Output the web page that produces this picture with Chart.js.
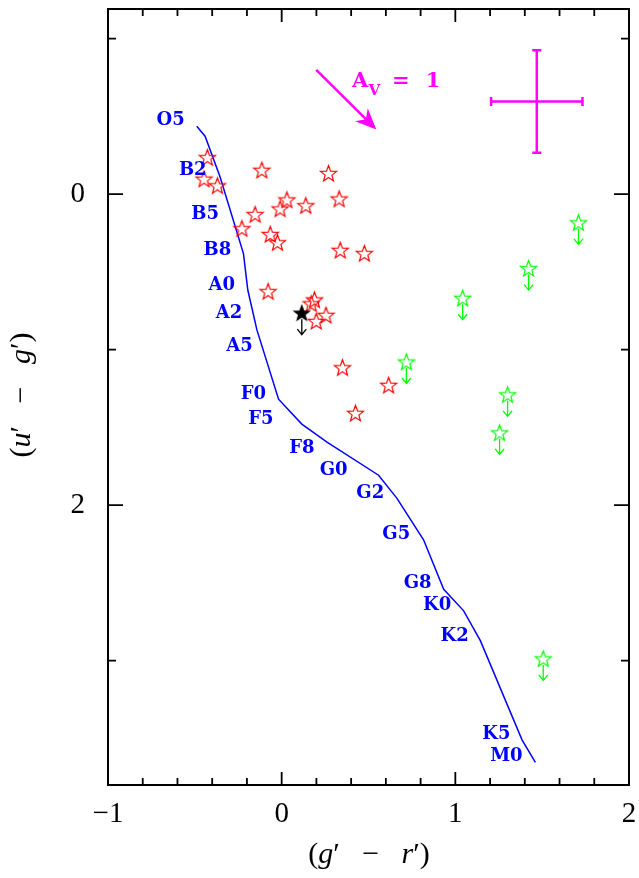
<!DOCTYPE html>
<html><head><meta charset="utf-8">
<script src="https://cdn.jsdelivr.net/npm/chart.js@4"></script>
<style>html,body{margin:0;padding:0;background:#fff;overflow:hidden}#wrap{width:639px;height:878px;position:relative}</style>
</head><body><div id="wrap"><canvas id="c" width="639" height="878"></canvas></div>
<script>
// ---- data ----
const msX = [-0.489,-0.441,-0.354,-0.220,-0.195,-0.143,-0.018,0.116,0.261,0.558,0.664,0.817,0.933,1.048,1.144,1.384,1.461];
const msY = [-0.436,-0.372,-0.108,0.383,0.617,0.872,1.319,1.479,1.595,1.808,1.957,2.223,2.542,2.680,2.872,3.510,3.655];
const spLabel = ['O5','B2','B5','B8','A0','A2','A5','F0','F5','F8','G0','G2','G5','G8','K0','K2','K5','M0'];
const spX = [-0.639,-0.512,-0.441,-0.370,-0.345,-0.303,-0.243,-0.163,-0.120,0.116,0.299,0.510,0.660,0.783,0.895,0.996,1.236,1.294];
const spY = [-0.472,-0.155,0.128,0.362,0.585,0.766,0.978,1.287,1.447,1.638,1.776,1.925,2.187,2.506,2.644,2.846,3.471,3.616];
const redX = [-0.428,-0.447,-0.370,-0.114,0.270,0.030,-0.009,0.139,0.331,-0.153,-0.229,-0.066,-0.024,0.337,0.476,-0.078,0.189,0.170,0.255,0.199,0.350,0.616,0.425];
const redY = [-0.234,-0.096,-0.053,-0.153,-0.132,0.038,0.096,0.075,0.032,0.132,0.223,0.260,0.313,0.362,0.383,0.627,0.681,0.706,0.780,0.819,1.117,1.230,1.410];
const greenX = [1.709,1.422,1.042,0.718,1.301,1.255,1.506];
const greenY = [0.185,0.479,0.670,1.080,1.291,1.536,2.989];
const blackX = [0.116];
const blackY = [0.766];
const xTickVals = [-1,0,1,2];
const yTickVals = [0,2];
const errX = [1.469], errY = [-0.595], errDX = [0.263], errDY = [0.330];
const avFrom = [0.199,-0.798];
const avTo = [0.545,-0.415];
const avText = ['A','V','=','1'];
const avTextX = [0.405,0.500,0.635,0.830];
const avTextY = [-0.691,-0.640,-0.691,-0.691];

// ---- star markers ----
function makeStar(color, filled, r){
  const s = Math.ceil(2*r+4), c = document.createElement('canvas');
  c.width = s; c.height = s;
  const g = c.getContext('2d'), cx = s/2, cy = s/2 + 0.5;
  g.beginPath();
  for (let i=0;i<10;i++){
    const ang = -Math.PI/2 + i*Math.PI/5, rr = (i%2) ? r*0.42 : r;
    const px = cx + rr*Math.cos(ang), py = cy + rr*Math.sin(ang);
    i ? g.lineTo(px,py) : g.moveTo(px,py);
  }
  g.closePath();
  if (filled){ g.fillStyle = color; g.fill(); }
  g.strokeStyle = color; g.lineWidth = 1.2; g.stroke();
  return c;
}
const redStar = makeStar('#ff0000', false, 8.5);
const greenStar = makeStar('#00ff00', false, 8.5);
const blackStar = makeStar('#000000', true, 8);

const pts = (xs, ys) => xs.map((v,i)=>({x:v, y:ys[i]}));
const signed = v => v < 0 ? '\u2212' + Math.abs(v) : String(v);
const noPad = s => { s.paddingTop = 0; s.paddingBottom = 0; s.paddingLeft = 0; s.paddingRight = 0; };

const deco = {
  id: 'deco',
  afterDatasetsDraw(chart){
    const {ctx, chartArea:a, scales:{x, y}} = chart;
    ctx.save();
    // upper-limit arrows
    const limArrow = (px, py, color) => {
      ctx.strokeStyle = color; ctx.lineWidth = 1.3;
      ctx.beginPath();
      ctx.moveTo(px, py+6); ctx.lineTo(px, py+21.5);
      ctx.moveTo(px-4.5, py+16); ctx.lineTo(px, py+21.5); ctx.lineTo(px+4.5, py+16);
      ctx.stroke();
    };
    greenX.forEach((v,i)=>limArrow(x.getPixelForValue(v), y.getPixelForValue(greenY[i]), '#00ff00'));
    blackX.forEach((v,i)=>limArrow(x.getPixelForValue(v), y.getPixelForValue(blackY[i]), '#000000'));

    // spectral type labels
    ctx.fillStyle = '#0000ff';
    ctx.font = 'bold 18px "DejaVu Serif"';
    ctx.textAlign = 'center'; ctx.textBaseline = 'middle';
    spLabel.forEach((t,i)=>ctx.fillText(t, x.getPixelForValue(spX[i]), y.getPixelForValue(spY[i])));

    // error cross
    ctx.strokeStyle = '#ff00ff'; ctx.lineWidth = 2.5;
    errX.forEach((v,i)=>{
      const cx = x.getPixelForValue(v), cy = y.getPixelForValue(errY[i]);
      const x1 = x.getPixelForValue(v-errDX[i]), x2 = x.getPixelForValue(v+errDX[i]);
      const y1 = y.getPixelForValue(errY[i]-errDY[i]), y2 = y.getPixelForValue(errY[i]+errDY[i]);
      ctx.beginPath();
      ctx.moveTo(x1,cy); ctx.lineTo(x2,cy);
      ctx.moveTo(cx,y1); ctx.lineTo(cx,y2);
      ctx.moveTo(x1,cy-4.5); ctx.lineTo(x1,cy+4.5);
      ctx.moveTo(x2,cy-4.5); ctx.lineTo(x2,cy+4.5);
      ctx.moveTo(cx-4.5,y1); ctx.lineTo(cx+4.5,y1);
      ctx.moveTo(cx-4.5,y2); ctx.lineTo(cx+4.5,y2);
      ctx.stroke();
    });

    // reddening vector
    const ax1 = x.getPixelForValue(avFrom[0]), ay1 = y.getPixelForValue(avFrom[1]);
    const ax2 = x.getPixelForValue(avTo[0]), ay2 = y.getPixelForValue(avTo[1]);
    const ang = Math.atan2(ay2-ay1, ax2-ax1);
    const hl = 21, hw = 9;
    const bx = ax2 - hl*Math.cos(ang), by = ay2 - hl*Math.sin(ang);
    const nx = ax2 - 0.7*hl*Math.cos(ang), ny = ay2 - 0.7*hl*Math.sin(ang);
    ctx.beginPath(); ctx.moveTo(ax1,ay1); ctx.lineTo(nx,ny); ctx.stroke();
    ctx.fillStyle = '#ff00ff';
    ctx.beginPath();
    ctx.moveTo(ax2,ay2);
    ctx.lineTo(bx - hw*Math.sin(ang), by + hw*Math.cos(ang));
    ctx.lineTo(nx, ny);
    ctx.lineTo(bx + hw*Math.sin(ang), by - hw*Math.cos(ang));
    ctx.closePath(); ctx.fill();
    ctx.textAlign = 'left'; ctx.textBaseline = 'alphabetic';
    avText.forEach((t,i)=>{
      ctx.font = (i===1 ? 'bold 15px' : 'bold 21px') + ' "DejaVu Serif"';
      ctx.fillText(t, x.getPixelForValue(avTextX[i]), y.getPixelForValue(avTextY[i]));
    });

    // frame and inward ticks
    ctx.strokeStyle = '#000'; ctx.lineWidth = 2;
    ctx.strokeRect(a.left, a.top, a.right-a.left, a.bottom-a.top);
    ctx.lineWidth = 1.8;
    ctx.beginPath();
    for (let i = Math.ceil(x.min*5); i <= Math.floor(x.max*5); i++){
      const px = x.getPixelForValue(i/5), L = (i%5===0) ? 13 : 7;
      ctx.moveTo(px, a.bottom); ctx.lineTo(px, a.bottom-L);
      ctx.moveTo(px, a.top); ctx.lineTo(px, a.top+L);
    }
    for (let j = Math.ceil(y.min); j <= Math.floor(y.max); j++){
      const py = y.getPixelForValue(j), L = (j%2===0) ? 15 : 8;
      ctx.moveTo(a.left, py); ctx.lineTo(a.left+L, py);
      ctx.moveTo(a.right, py); ctx.lineTo(a.right-L, py);
    }
    ctx.stroke();
    ctx.restore();
  },
  afterDraw(chart){
    const {ctx, chartArea:a} = chart;
    const drawTitle = (parts, cx, cy, rot) => {
      ctx.save();
      ctx.translate(cx, cy); ctx.rotate(rot);
      ctx.fillStyle = '#000'; ctx.textBaseline = 'middle'; ctx.textAlign = 'left';
      let w = 0;
      parts.forEach(p=>{ ctx.font = p[1]; w += ctx.measureText(p[0]).width; });
      let xx = -w/2;
      parts.forEach(p=>{ ctx.font = p[1]; ctx.fillText(p[0], xx, 0); xx += ctx.measureText(p[0]).width; });
      ctx.restore();
    };
    const N = '30px "Liberation Serif"', I = 'italic 30px "Liberation Serif"';
    drawTitle([['(',N],['g',I],['\u2032   \u2212   ',N],['r',I],['\u2032)',N]], 369, 855, 0);
    drawTitle([['(',N],['u',I],['\u2032   \u2212   ',N],['g',I],['\u2032)',N]], 22, 395, -Math.PI/2);
  }
};

new Chart(document.getElementById('c'), {
  type: 'scatter',
  data: {
    datasets: [
      {label:'black', data: pts(blackX, blackY), pointStyle: blackStar, pointRadius: 8, pointHoverRadius: 8},
      {label:'red', data: pts(redX, redY), pointStyle: redStar, pointRadius: 8, pointHoverRadius: 8},
      {label:'green', data: pts(greenX, greenY), pointStyle: greenStar, pointRadius: 8, pointHoverRadius: 8},
      {label:'main sequence', data: pts(msX, msY), showLine: true, borderColor: '#0000ff', borderWidth: 1.5, pointRadius: 0, pointHoverRadius: 0, fill: false}
    ]
  },
  options: {
    responsive: false, animation: false, devicePixelRatio: 1,
    layout: {padding: {left: 0, right: 10, top: 3, bottom: 0}},
    plugins: {legend: {display: false}, tooltip: {enabled: false}},
    scales: {
      x: {
        type: 'linear', min: -1, max: 2,
        grid: {display: false, drawTicks: false},
        border: {display: false},
        afterBuildTicks: s => { s.ticks = xTickVals.map(v=>({value:v})); },
        afterFit: s => { s.height = 93; noPad(s); },
        ticks: {color: '#000', font: {family: 'Liberation Serif', size: 29}, padding: 12, maxRotation: 0, callback: v => signed(v)}
      },
      y: {
        type: 'linear', reverse: true, min: -1.19, max: 3.8,
        grid: {display: false, drawTicks: false},
        border: {display: false},
        afterBuildTicks: s => { s.ticks = yTickVals.map(v=>({value:v})); },
        afterFit: s => { s.width = 108; noPad(s); },
        ticks: {color: '#000', font: {family: 'Liberation Serif', size: 29}, padding: 23, callback: v => signed(v)}
      }
    }
  },
  plugins: [deco]
});
</script></body></html>
